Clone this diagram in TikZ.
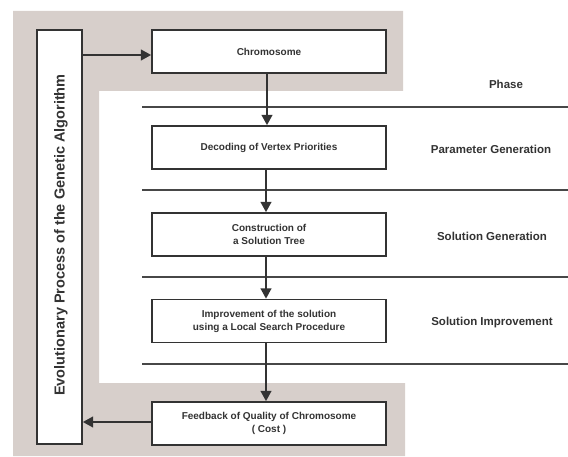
\documentclass[tikz,border=0pt]{standalone}
\usepackage{fontspec}
\setmainfont{Liberation Sans}
\usetikzlibrary{arrows.meta}
\definecolor{bandgray}{HTML}{D7CFCB}
\definecolor{ink}{HTML}{333333}
\tikzset{
  box/.style={draw=ink, line width=1.4pt, fill=white, minimum width=234pt, minimum height=43pt, inner sep=0pt, align=center, text=ink, font=\fontsize{10}{13}\selectfont\bfseries},
  phase/.style={text=ink, font=\fontsize{11.5}{14}\selectfont\bfseries},
  sep/.style={draw=ink!90, line width=1.2pt},
  flow/.style={draw=ink, line width=2.8pt, -{Triangle[length=10.5pt,width=10.5pt]}}
}
\begin{document}
\begin{tikzpicture}[x=1pt,y=-1pt]
\useasboundingbox (0,0) rectangle (568,457);
% gray band
\fill[bandgray] (13,11) -- (403,11) -- (403,91) -- (99,91) -- (99,383) -- (405,383) -- (405,456) -- (13,456) -- cycle;
% left vertical box
\node[draw=ink, line width=1.4pt, fill=white, minimum width=45pt, minimum height=414pt, inner sep=0pt] (evo) at (59.5,237) {};
\node[rotate=90, text=ink, font=\fontsize{14.5}{17}\selectfont\bfseries] (evotext) at (61,235) {Evolutionary Process of the Genetic Algorithm};
% separator lines
\coordinate (l1a) at (142,107); \coordinate (l1b) at (568,107);
\coordinate (l2a) at (142,190); \coordinate (l2b) at (568,190);
\coordinate (l3a) at (142,277); \coordinate (l3b) at (568,277);
\coordinate (l4a) at (142,364); \coordinate (l4b) at (568,364);
\draw[sep] (l1a) -- (l1b);
\draw[sep] (l2a) -- (l2b);
\draw[sep] (l3a) -- (l3b);
\draw[sep] (l4a) -- (l4b);
% boxes
\node[box] (chrom) at (269,51.5) {Chromosome};
\node[box] (dec) at (269,147.5) {Decoding of Vertex Priorities};
\node[box] (cons) at (269,234.5) {Construction of\\a Solution Tree};
\node[box] (imp) at (269,321) {Improvement of the solution\\using a Local Search Procedure};
\node[box] (feed) at (269,423.5) {Feedback of Quality of Chromosome\\( Cost )};
% phase labels
\node[phase] (ph) at (506,84) {Phase};
\node[phase] (pg) at (491,149) {Parameter Generation};
\node[phase] (sg) at (492,236) {Solution Generation};
\node[phase] (si) at (492,323) {Solution Improvement};
% arrows
\draw[flow] (chrom.south -| 267,0) -- (dec.north -| 267,0);
\draw[flow] (dec.south -| 266,0) -- (cons.north -| 266,0);
\draw[flow] (cons.south -| 266,0) -- (imp.north -| 266,0);
\draw[flow] (imp.south -| 266,0) -- (feed.north -| 266,0);
\draw[flow] (evo.east |- 0,55) -- (chrom.west |- 0,55);
\draw[flow] (feed.west |- 0,422) -- (evo.east |- 0,422);
\end{tikzpicture}
\end{document}
